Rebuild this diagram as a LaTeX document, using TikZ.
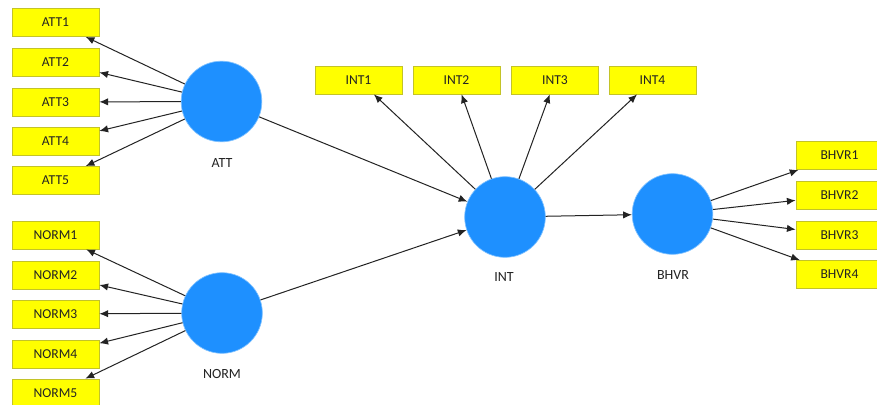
\documentclass[tikz,border=0pt]{standalone}
\usepackage{fontspec}
\setmainfont{Carlito}
\usetikzlibrary{arrows.meta}
\definecolor{boxyellow}{RGB}{255,255,0}
\definecolor{boxedge}{RGB}{195,195,40}
\definecolor{lvblue}{RGB}{30,144,255}
\definecolor{lvedge}{RGB}{130,195,255}
\definecolor{ink}{RGB}{35,35,35}
\begin{document}
\begin{tikzpicture}[x=0.75pt,y=-0.75pt,
  ind/.style={draw=boxedge, fill=boxyellow, line width=0.6pt, minimum width=65.25pt, minimum height=21pt, inner sep=0pt, font=\fontsize{10.2pt}{12pt}\selectfont, text=ink},
  lv/.style={circle, fill=lvblue, draw=lvedge, line width=0.5pt, minimum size=60.5pt, inner sep=0pt},
  lvlabel/.style={font=\fontsize{10.5pt}{12pt}\selectfont, text=ink},
  conn/.style={draw=ink, line width=0.75pt, -{Latex[length=6.5pt,width=5.5pt]}}
]
\clip (0,0) rectangle (877,404);
\fill[white] (0,0) rectangle (877,404);

% latent variables
\node[lv] (ATT) at (221.5,101.5) {};
\node[lv] (NORM) at (222,313) {};
\node[lv] (INT) at (505,217) {};
\node[lv] (BHVR) at (672.5,214) {};
\node[lvlabel] (ATTl) at (222,163) {ATT};
\node[lvlabel] (NORMl) at (222,374) {NORM};
\node[lvlabel] (INTl) at (504,277) {INT};
\node[lvlabel] (BHVRl) at (673,275) {BHVR};

% indicators
\node[ind] (ATT1) at (55.5,22.5) {ATT1};
\node[ind] (ATT2) at (55.5,62) {ATT2};
\node[ind] (ATT3) at (55.5,102) {ATT3};
\node[ind] (ATT4) at (55.5,141.5) {ATT4};
\node[ind] (ATT5) at (55.5,180.5) {ATT5};

\node[ind] (NORM1) at (55.5,235) {NORM1};
\node[ind] (NORM2) at (55.5,275) {NORM2};
\node[ind] (NORM3) at (55.5,314) {NORM3};
\node[ind] (NORM4) at (55.5,354) {NORM4};
\node[ind] (NORM5) at (55.5,393) {NORM5};

\node[ind] (INT1) at (358.5,80) {INT1};
\node[ind] (INT2) at (456.5,80) {INT2};
\node[ind] (INT3) at (555,80) {INT3};
\node[ind] (INT4) at (652.5,80) {INT4};

\node[ind] (BHVR1) at (839.5,155.5) {BHVR1};
\node[ind] (BHVR2) at (839.5,195.5) {BHVR2};
\node[ind] (BHVR3) at (839.5,235) {BHVR3};
\node[ind] (BHVR4) at (839.5,274.5) {BHVR4};

% connectors
\foreach \i in {1,...,5} {
  \draw[conn] (ATT) -- (ATT\i);
  \draw[conn] (NORM) -- (NORM\i);
}
\foreach \i in {1,...,4} {
  \draw[conn] (INT) -- (INT\i);
  \draw[conn] (BHVR) -- (BHVR\i);
}
\draw[conn] (ATT) -- (INT);
\draw[conn] (NORM) -- (INT);
\draw[conn] (INT) -- (BHVR);
\end{tikzpicture}
\end{document}
